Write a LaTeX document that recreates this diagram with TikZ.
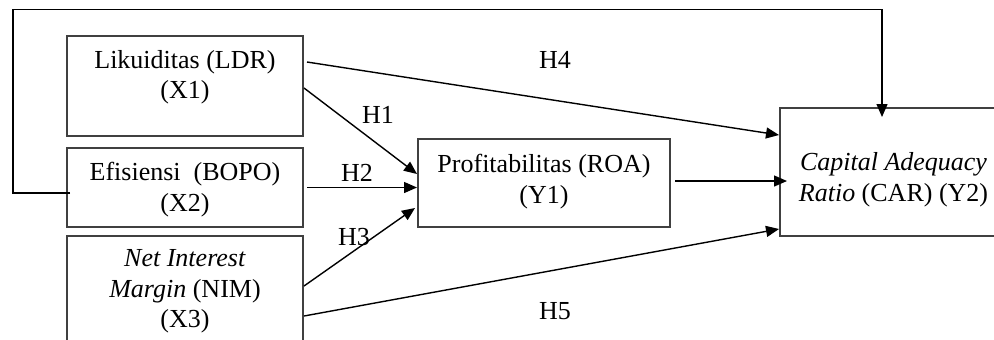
\documentclass[tikz,border=0pt]{standalone}
\usepackage{fontspec}
\setmainfont{Liberation Serif}
\usetikzlibrary{arrows.meta,positioning}

\begin{document}
\begin{tikzpicture}[
  x=0.5pt, y=-0.5pt,
  box/.style={draw=black!75, line width=1pt, inner sep=0pt, anchor=north west},
  txt/.style={align=center, inner sep=0pt, font=\fontsize{13}{15.2}\selectfont},
  ar/.style={-{Triangle[length=6.5pt,width=5.5pt]}, draw=black, line width=0.7pt},
  lbl/.style={font=\fontsize{13}{15.2}\selectfont, inner sep=0pt}
]
\clip (0,0) rectangle (994,339);

% boxes
\node[box, minimum width=118pt, minimum height=50pt] (x1) at (66,35) {};
\node[box, minimum width=118pt, minimum height=39.5pt] (x2) at (66,147) {};
\node[box, minimum width=118pt, minimum height=62.5pt] (x3) at (66,235) {};
\node[box, minimum width=126pt, minimum height=44pt] (y1) at (417,138) {};
\node[box, minimum width=110.5pt, minimum height=64pt] (y2) at (779,107) {};

% box texts
\node[txt, anchor=north, below=7.5pt of x1.north] (x1t) {Likuiditas (LDR)\\(X1)};
\node[txt, anchor=north, below=7.5pt of x2.north] (x2t) {Efisiensi~ (BOPO)\\(X2)};
\node[txt, anchor=north, below=7.2pt of x3.north] (x3t) {\textit{Net Interest}\\\textit{Margin} (NIM)\\(X3)};
\node[txt, anchor=north, below=8pt of y1.north] (y1t) {Profitabilitas (ROA)\\(Y1)};
\node[txt, anchor=north, below=22.6pt of y2.north, xshift=1.5pt] (y2t) {\textit{Capital Adequacy}\\\textit{Ratio} (CAR) (Y2)};

% paths
\coordinate (loop) at (13,9.5);
\draw[ar] ([xshift=2pt,yshift=-2.75pt]x2.west) -| (loop) -| ([xshift=-4.25pt,yshift=-5pt]y2.north);
\draw[ar] ([xshift=1.5pt,yshift=12pt]x1.east) -- ([yshift=18.5pt]y2.west);
\draw[ar] ([yshift=-1pt]x1.east) -- ([yshift=4.5pt]y1.west);
\draw[ar] ([xshift=1.5pt]x2.east) -- (x2.east -| y1.west);
\draw[ar] ([yshift=6.25pt]x3.east) -- ([xshift=-1pt,yshift=-12.5pt]y1.west);
\draw[ar] ([yshift=-8.75pt]x3.east) -- ([yshift=-28.5pt]y2.west);
\draw[ar] ([xshift=2pt,yshift=1pt]y1.east) -- ([xshift=4pt,yshift=-4.5pt]y2.west);

% hypothesis labels
\node[lbl] (h1) at (378,115) {H1};
\node[lbl] (h2) at (357,173) {H2};
\node[lbl] (h3) at (354,237) {H3};
\node[lbl] (h4) at (555,60) {H4};
\node[lbl] (h5) at (555,311) {H5};
\end{tikzpicture}
\end{document}
